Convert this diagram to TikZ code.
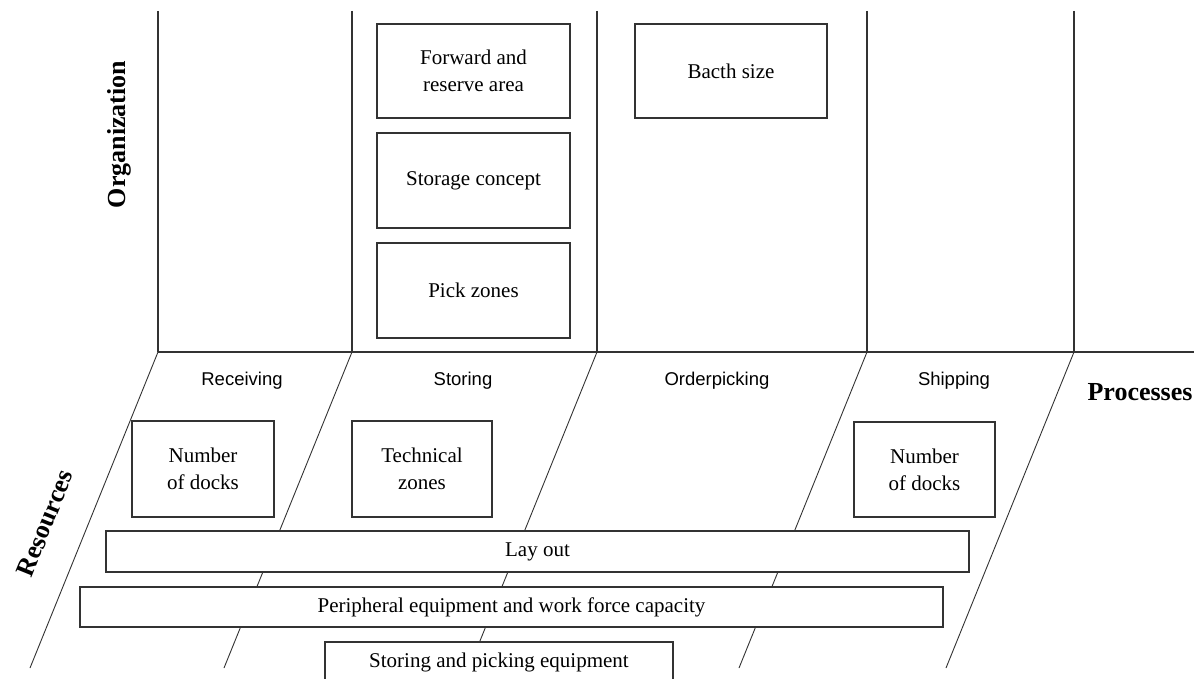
\documentclass[tikz,border=0pt]{standalone}
\usepackage{fontspec}
\setmainfont{Liberation Serif}
\newfontfamily\labelfont{Liberation Sans}
\begin{document}
\begin{tikzpicture}[x=1pt,y=-1pt,
  rule/.style={draw=black!80, line width=1.3pt},
  slant/.style={draw=black!80, line width=0.9pt},
  factor/.style={draw=black!80, line width=1.2pt, fill=white, inner sep=0pt,
    align=center, font=\fontsize{21}{27}\selectfont},
  process/.style={anchor=base, font=\labelfont\fontsize{18.5}{22}\selectfont},
  axis/.style={font=\bfseries\upshape\fontsize{26}{30}\selectfont}]
\clip (0,0) rectangle (1194,679);
\fill[white] (0,0) rectangle (1194,679);

% stage boundaries: vertical in the organization plane, slanted in the resource plane
\coordinate (a top) at (158,11);  \coordinate (a base) at (158,352);  \coordinate (a foot) at (30,668);
\coordinate (b top) at (352,11);  \coordinate (b base) at (352,352);  \coordinate (b foot) at (224,668);
\coordinate (c top) at (597,11);  \coordinate (c base) at (597,352);  \coordinate (c foot) at (469,668);
\coordinate (d top) at (867,11);  \coordinate (d base) at (867,352);  \coordinate (d foot) at (739,668);
\coordinate (e top) at (1074,11); \coordinate (e base) at (1074,352); \coordinate (e foot) at (946,668);
\coordinate (edge) at (1194,352);
\foreach \n in {a,b,c,d,e} {
  \draw[rule] (\n\space top) -- (\n\space base);
  \draw[slant] (\n\space base) -- (\n\space foot);
}
\draw[rule] (a base) -- (edge);

% axis titles
\node[axis, rotate=90] (org) at (119.5,134.5) {Organization};
\node[axis, rotate=68] (res) at (45,523) {Resources};
\node[axis, anchor=base] (proc) at (1140,400) {Processes};

% process names
\node[process] (recv) at (242,385) {Receiving};
\node[process] (stor) at (463,385) {Storing};
\node[process] (pick) at (717,385) {Orderpicking};
\node[process] (ship) at (954,385) {Shipping};

% organizational factors
\node[factor, minimum width=193, minimum height=94] (fwd) at (473.5,71) {Forward and\\reserve area};
\node[factor, minimum width=193, minimum height=95] (conc) at (473.5,180.5) {Storage concept};
\node[factor, minimum width=193, minimum height=95] (zones) at (473.5,290.5) {Pick zones};
\node[factor, minimum width=192, minimum height=94] (batch) at (731,71) {Bacth size};

% resource factors
\node[factor, minimum width=142, minimum height=96] (dockin) at (203,469) {Number\\of docks};
\node[factor, minimum width=140, minimum height=96] (tech) at (422,469) {Technical\\zones};
\node[factor, minimum width=141, minimum height=95] (dockout) at (924.5,469.5) {Number\\of docks};
\node[factor, minimum width=863, minimum height=41] (layout) at (537.5,551.5) {Lay out};
\node[factor, minimum width=863, minimum height=40] (periph) at (511.5,607) {Peripheral equipment and work force capacity};
\node[factor, minimum width=348, minimum height=41] (equip) at (499,662.5) {Storing and picking equipment};
\end{tikzpicture}
\end{document}
